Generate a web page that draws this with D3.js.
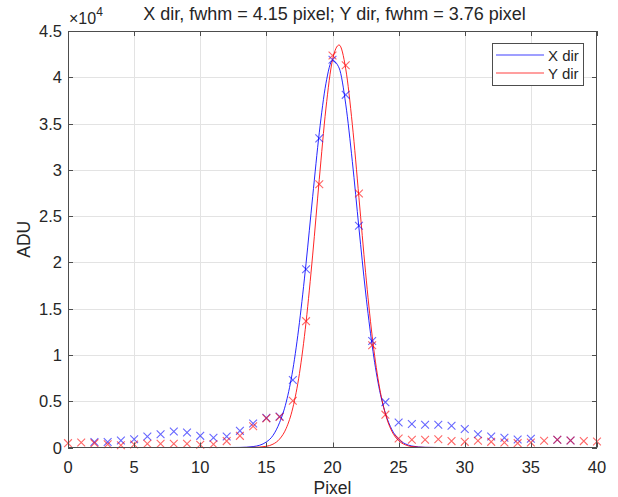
<!DOCTYPE html>
<html><head><meta charset="utf-8">
<script src="https://cdn.jsdelivr.net/npm/d3@7"></script>
<style>body{margin:0;background:#fff}svg{display:block}text{font-family:"Liberation Sans",Arial,sans-serif;fill:#262626}</style>
</head><body><svg id="c" width="618" height="497"></svg>
<script>
const titleText = "X dir, fwhm = 4.15 pixel; Y dir, fwhm = 3.76 pixel";
const xLabel = "Pixel", yLabel = "ADU";
const xTicks = [0,5,10,15,20,25,30,35,40];
const yTicks = [0,5000,10000,15000,20000,25000,30000,35000,40000,45000];
const yTickLabels = ["0","0.5","1","1.5","2","2.5","3","3.5","4","4.5"];
const seriesNames = ["X dir","Y dir"];
const seriesColors = ["#0000ff","#ff0000"];

const blueX = [2,3,4,5,6,7,8,9,10,11,12,13,14,15,16,17,18,19,20,21,22,23,24,25,26,27,28,29,30,31,32,33,34,35,37,38];
const blueY = [600,600,760,900,1190,1440,1730,1620,1260,1050,1190,1800,2600,3200,3350,7300,19250,33400,41900,38100,23950,11500,4900,2700,2530,2450,2450,2350,1990,1440,1190,1050,870,940,830,760];
const redX = [0,1,2,3,4,5,6,7,8,9,10,11,12,13,14,15,16,17,18,19,20,21,22,23,24,25,26,27,28,29,30,31,32,33,34,35,36,37,38,39,40];
const redY = [470,540,470,360,250,320,400,400,400,400,290,360,690,1260,2300,3150,3300,5050,13650,28450,42350,41300,27450,11050,3550,975,830,830,900,690,610,720,610,540,470,540,720,830,760,690,650];

const curveX =    [0,10,12,13,14,15,15.5,16,16.5,17,17.5,18,18.5,19,19.5,20,20.5,21,21.5,22,22.5,23,23.5,24,24.5,25,25.5,26,27,28,30,40];
const blueCurve = [0,0,0,10,100,600,1300,2700,4900,8400,13500,19900,27100,34000,39300,41800,41000,37100,30900,23700,16800,11000,6600,3700,1900,900,400,160,20,0,0,0];
const redCurve =  [0,0,0,0,13,130,360,910,2070,4280,7990,13540,20790,28970,36580,41880,43490,40910,34900,26990,18930,12030,6930,3620,1720,740,290,100,9,0,0,0];

const L=68, R=597, T=31, B=447.5;
const svg = d3.select("#c");
const x = d3.scaleLinear().domain([0,40]).range([L,R]);
const y = d3.scaleLinear().domain([0,45000]).range([B,T]);

// grid
const g = svg.append("g");
g.selectAll(".gx").data(xTicks.slice(1,-1)).enter().append("line")
  .attr("x1",d=>Math.round(x(d))+0.5).attr("x2",d=>Math.round(x(d))+0.5).attr("y1",T).attr("y2",B)
  .attr("stroke","#e3e3e3").attr("stroke-width",1);
g.selectAll(".gy").data(yTicks.slice(1,-1)).enter().append("line")
  .attr("y1",d=>Math.round(y(d))+0.5).attr("y2",d=>Math.round(y(d))+0.5).attr("x1",L).attr("x2",R)
  .attr("stroke","#e3e3e3").attr("stroke-width",1);

// curves
const line = d3.line().x(d=>x(d[0])).y(d=>y(d[1])).curve(d3.curveMonotoneX);
[blueCurve, redCurve].forEach((c,i)=>{
  svg.append("path").datum(curveX.map((v,k)=>[v,c[k]])).attr("d",line)
    .attr("fill","none").attr("stroke",seriesColors[i]).attr("stroke-width",1).attr("stroke-opacity",0.85);
});

// markers
function drawX(xs, ys, color){
  const s = 3.9;
  svg.append("g").selectAll("path").data(xs.map((v,k)=>[v,ys[k]])).enter().append("path")
    .attr("d",d=>{const cx=x(d[0]), cy=y(d[1]);
      return `M${cx-s},${cy-s}L${cx+s},${cy+s}M${cx-s},${cy+s}L${cx+s},${cy-s}`;})
    .attr("stroke",color).attr("stroke-width",1.1).attr("stroke-opacity",0.6).attr("fill","none");
}
drawX(blueX, blueY, seriesColors[0]);
drawX(redX, redY, seriesColors[1]);

// axes box
const ax = svg.append("g");
ax.append("rect").attr("x",L+0.5).attr("y",T+0.5).attr("width",R-L-1).attr("height",B-T-0.5)
  .attr("fill","none").attr("stroke","#4d4d4d").attr("stroke-width",1);
const tl = 5;
xTicks.forEach(t=>{
  const px = Math.round(x(t))+0.5;
  ax.append("line").attr("x1",px).attr("x2",px).attr("y1",B).attr("y2",B-tl).attr("stroke","#4d4d4d");
  ax.append("line").attr("x1",px).attr("x2",px).attr("y1",T).attr("y2",T+tl).attr("stroke","#4d4d4d");
  ax.append("text").attr("x",x(t)).attr("y",B+25).attr("text-anchor","middle").attr("font-size",16.5).text(t);
});
yTicks.forEach((t,i)=>{
  const py = Math.round(y(t))+0.5;
  ax.append("line").attr("x1",L).attr("x2",L+tl).attr("y1",py).attr("y2",py).attr("stroke","#4d4d4d");
  ax.append("line").attr("x1",R).attr("x2",R-tl).attr("y1",py).attr("y2",py).attr("stroke","#4d4d4d");
  ax.append("text").attr("x",L-6).attr("y",y(t)+6).attr("text-anchor","end").attr("font-size",16.5).text(yTickLabels[i]);
});

// exponent
const ex = svg.append("text").attr("x",L+1).attr("y",T-7).attr("font-size",16);
ex.append("tspan").text("\u00d710");
ex.append("tspan").attr("dy",-8).attr("font-size",12).text("4");

// title & labels
svg.append("text").attr("x",(L+R)/2+2).attr("y",20).attr("text-anchor","middle").attr("font-size",18).text(titleText);
svg.append("text").attr("x",(L+R)/2).attr("y",494).attr("text-anchor","middle").attr("font-size",17.5).text(xLabel);
svg.append("text").attr("transform",`translate(30,${(T+B)/2}) rotate(-90)`).attr("text-anchor","middle").attr("font-size",17.5).text(yLabel);

// legend
const lg = svg.append("g");
lg.append("rect").attr("x",492.5).attr("y",43.5).attr("width",91).attr("height",42)
  .attr("fill","#fff").attr("stroke","#4d4d4d").attr("stroke-width",1);
seriesNames.forEach((n,i)=>{
  const yy = 55+i*18;
  lg.append("line").attr("x1",496).attr("x2",544).attr("y1",yy).attr("y2",yy)
    .attr("stroke",seriesColors[i]).attr("stroke-width",1.2).attr("stroke-opacity",0.75);
  lg.append("text").attr("x",548).attr("y",yy+6).attr("font-size",15).text(n);
});
</script></body></html>
